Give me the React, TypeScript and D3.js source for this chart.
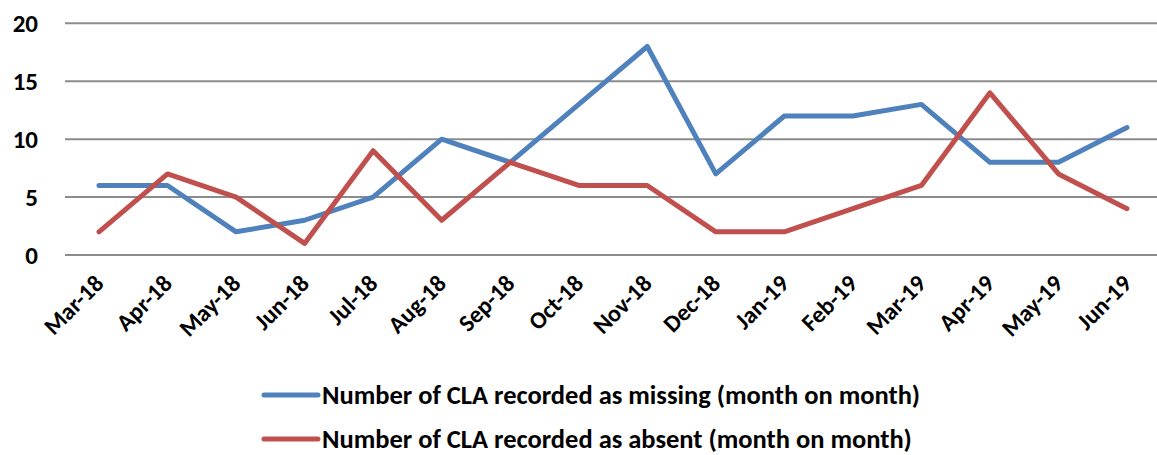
import React from 'react';
import { scalePoint, scaleLinear, line } from 'd3';

const months = ['Mar-18', 'Apr-18', 'May-18', 'Jun-18', 'Jul-18', 'Aug-18', 'Sep-18', 'Oct-18',
  'Nov-18', 'Dec-18', 'Jan-19', 'Feb-19', 'Mar-19', 'Apr-19', 'May-19', 'Jun-19'];
const missing = [6, 6, 2, 3, 5, 10, 8, 13, 18, 7, 12, 12, 13, 8, 8, 11];
const absent = [2, 7, 5, 1, 9, 3, 8, 6, 6, 2, 2, 4, 6, 14, 7, 4];
const yTicks = [0, 5, 10, 15, 20];

const series = [
  { name: 'Number of CLA recorded as missing (month on month)', values: missing, color: '#4F81BD' },
  { name: 'Number of CLA recorded as absent (month on month)', values: absent, color: '#C0504D' },
];

const font = "Carlito, Calibri, 'Liberation Sans Narrow', 'Open Sans', sans-serif";

const App = () => {
  const width = 1157;
  const height = 455;
  const margin = { left: 65, right: 0, top: 23.3, bottom: 200 };

  const xScale = scalePoint<string>().domain(months).range([99, 1127]);
  const yScale = scaleLinear().domain([0, 20]).range([255, margin.top]);

  const pathGen = line<number>()
    .x((d, i) => xScale(months[i]) as number)
    .y(d => yScale(d));

  return (
    <svg width={width} height={height} style={{ position: 'absolute', left: 0, top: 0 }}>
      <rect width={width} height={height} fill="white" />
      {yTicks.map(t => (
        <g key={t}>
          <line x1={margin.left} x2={width} y1={yScale(t)} y2={yScale(t)} stroke="#8c8c8c" strokeWidth={2} />
          <text x={38} y={yScale(t)} dy="0.35em" textAnchor="end"
            style={{ fontFamily: font, fontWeight: 'bold', fontSize: '25px' }} fill="#000">{t}</text>
        </g>
      ))}
      {months.map(m => (
        <text key={m}
          transform={`translate(${(xScale(m) as number) + 6}, 285) rotate(-45)`}
          textAnchor="end"
          style={{ fontFamily: font, fontWeight: 'bold', fontSize: '24px' }}
          fill="#000">{m}</text>
      ))}
      {series.map(s => (
        <path key={s.name} d={pathGen(s.values) || ''} fill="none" stroke={s.color}
          strokeWidth={5} strokeLinejoin="round" strokeLinecap="round" />
      ))}
      {series.map((s, i) => (
        <g key={s.name} transform={`translate(264, ${395 + i * 44})`}>
          <line x1={0} x2={54} y1={0} y2={0} stroke={s.color} strokeWidth={5} strokeLinecap="round" />
          <text x={58} y={0} dy="0.33em"
            style={{ fontFamily: font, fontWeight: 'bold', fontSize: '26.5px' }} fill="#000">{s.name}</text>
        </g>
      ))}
    </svg>
  );
};

export default App;
